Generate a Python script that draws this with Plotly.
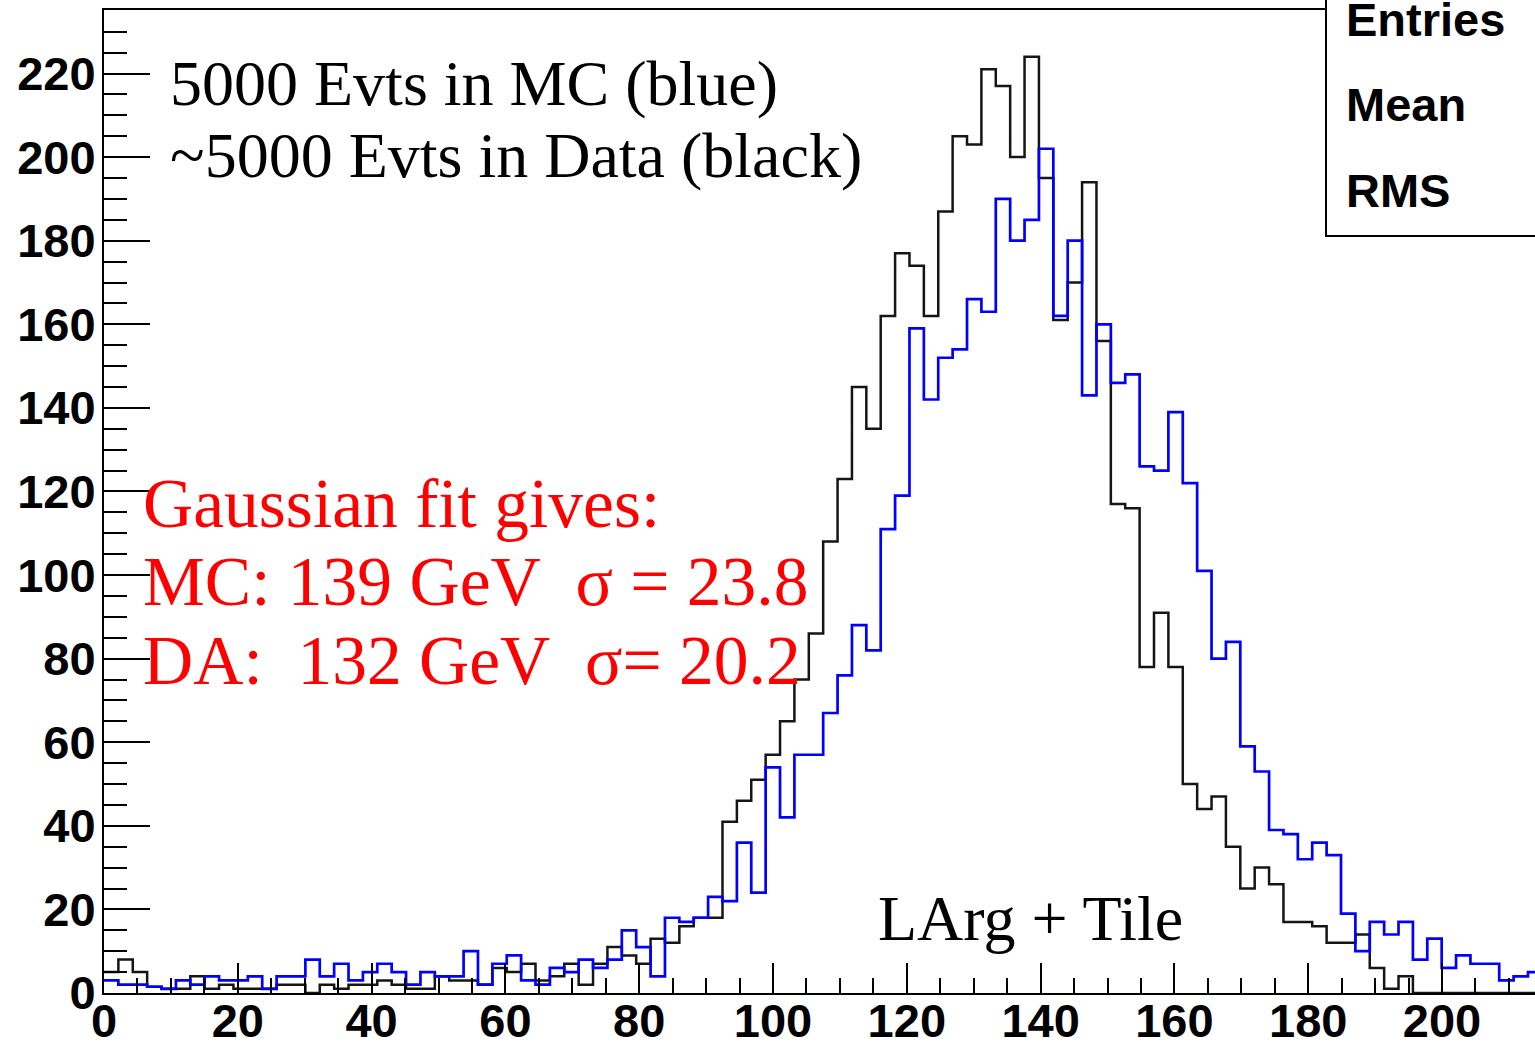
import numpy as np
import plotly.graph_objects as go

# Histogram binning (GeV): fixed-width bins starting at 0
bin_width = 2.15

# Monte Carlo (blue) and data (black) bin contents
mc_counts = [
    3, 2, 2, 1.5, 1, 3, 2, 4, 3, 3,
    4, 1, 4, 4, 8, 4, 7, 3, 5, 7,
    5, 2, 5, 4, 4, 10, 2, 7, 9, 3,
    2, 6, 5, 8, 6, 8, 15, 11, 4, 18,
    17, 18, 23, 22, 36, 24, 54, 42, 57, 57,
    67, 76, 88, 82, 111, 119, 159, 142, 152, 154,
    166, 163, 190, 180, 185, 202, 162, 180, 143, 160,
    146, 148, 126, 125, 139, 122, 101, 80, 84, 59,
    53, 39, 38, 32, 36, 33, 19, 10, 17, 14,
    17, 8, 13, 6, 9, 7, 7, 3, 4, 5,
]
data_counts = [
    5, 8, 5, 1.5, 1, 1, 4, 1, 2, 1,
    1, 1, 2, 2, 0, 2, 1, 2, 2, 3,
    2, 1, 1, 4, 3, 3, 2, 6, 5, 7,
    3, 4, 7, 2, 7, 11, 9, 7, 13, 12,
    16, 18, 18, 41, 46, 51, 57, 65, 75, 86,
    108, 123, 145, 135, 162, 177, 174, 162, 187, 205,
    203, 221, 217, 200, 224, 195, 161, 170, 194, 156,
    117, 116, 78, 91, 78, 50, 44, 47, 35, 25,
    30, 26, 17, 17, 16, 12, 12, 14, 6, 1,
    4, 0, 0, 0, 0, 0, 0, 0, 0, 0,
]

x_tick_vals = [0, 20, 40, 60, 80, 100, 120, 140, 160, 180, 200]
y_tick_vals = [0, 20, 40, 60, 80, 100, 120, 140, 160, 180, 200, 220]
x_range = [0, 213.9]
y_range = [0, 235.2]

# Figure geometry (pixels)
W, H = 1535, 1042
ML, MR, MT, MB = 104, 0, 10, 49
PW, PH = W - ML - MR, H - MT - MB


def px(xp):
    return (xp - ML) / PW


def py(yp):
    return (H - MB - yp) / PH


def step_xy(counts):
    edges = np.arange(len(counts) + 1) * bin_width
    y = list(counts) + [counts[-1]]
    return edges, y


fig = go.Figure()

xd, yd = step_xy(data_counts)
fig.add_trace(go.Scatter(x=xd, y=yd, mode="lines", line=dict(shape="hv", color="#151515", width=2.5),
                         hoverinfo="skip", name="Data"))
xm, ym = step_xy(mc_counts)
fig.add_trace(go.Scatter(x=xm, y=ym, mode="lines", line=dict(shape="hv", color="#0000ff", width=2.7),
                         hoverinfo="skip", name="MC"))

tick_font = dict(family="Liberation Sans", size=47, color="black", weight="bold")

fig.update_xaxes(
    range=x_range, automargin=False, showline=True, linecolor="black", linewidth=2, mirror=True,
    ticks="inside", ticklen=30, tickwidth=2, tickcolor="black", ticklabelstandoff=-14,
    tickvals=x_tick_vals, ticktext=[str(v) for v in x_tick_vals],
    showgrid=False, zeroline=False, tickfont=tick_font,
    minor=dict(dtick=5, tick0=0, ticks="inside", ticklen=15, tickwidth=2, tickcolor="black", showgrid=False),
)
fig.update_yaxes(
    range=y_range, automargin=False, showline=True, linecolor="black", linewidth=2, mirror=False,
    ticks="inside", ticklen=46, tickwidth=2, tickcolor="black", ticklabelstandoff=-3,
    tickvals=y_tick_vals, ticktext=[str(v) for v in y_tick_vals],
    showgrid=False, zeroline=False, tickfont=tick_font,
    minor=dict(dtick=5, tick0=0, ticks="inside", ticklen=23, tickwidth=2, tickcolor="black", showgrid=False),
)

# Statistics box in the top-right corner
fig.add_shape(type="rect", xref="paper", yref="paper",
              x0=px(1326), x1=px(1545), y0=py(236), y1=py(-10),
              line=dict(color="black", width=2), fillcolor="white", layer="above")

serif = "Liberation Serif"
annotations = [
    ("5000 Evts in MC (blue)", 168, 83, serif, 64, "black", "normal"),
    ("~5000 Evts in Data (black)", 168, 156, serif, 64, "black", "normal"),
    ("Gaussian fit gives:", 141, 503, serif, 69.5, "#ff0000", "normal"),
    ("MC: 139 GeV\u00a0 \u03c3 = 23.8", 141, 582, serif, 69.5, "#ff0000", "normal"),
    ("DA:\u00a0 132 GeV\u00a0 \u03c3= 20.2", 141, 660, serif, 69.5, "#ff0000", "normal"),
    ("LArg + Tile", 876, 918, serif, 64, "black", "normal"),
    ("Entries", 1344, 19, "Liberation Sans", 47, "black", "bold"),
    ("Mean", 1344, 104, "Liberation Sans", 47, "black", "bold"),
    ("RMS", 1344, 190, "Liberation Sans", 47, "black", "bold"),
]
for text, xp, yp, fam, size, color, weight in annotations:
    fig.add_annotation(text=text, xref="paper", yref="paper", x=px(xp), y=py(yp),
                       xanchor="left", yanchor="middle", showarrow=False,
                       font=dict(family=fam, size=size, color=color, weight=weight))

fig.update_layout(
    width=W, height=H, margin=dict(l=ML, r=MR, t=MT, b=MB, pad=0),
    plot_bgcolor="white", paper_bgcolor="white", showlegend=False,
)

fig.write_html("out.html")
